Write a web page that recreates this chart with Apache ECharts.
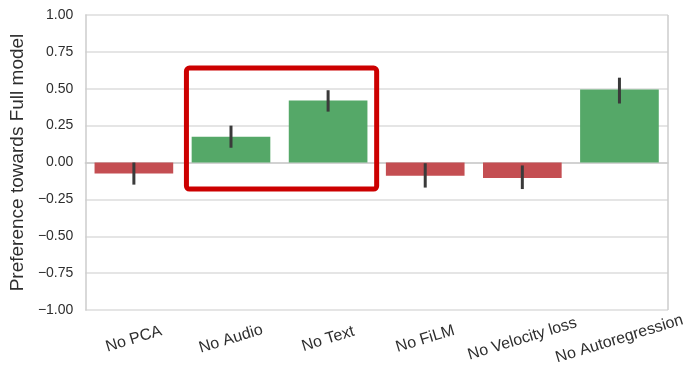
<!DOCTYPE html>
<html>
<head>
<meta charset="utf-8">
<script src="https://cdn.jsdelivr.net/npm/echarts@6/dist/echarts.min.js"></script>
<style>
  html, body { margin: 0; padding: 0; background: #ffffff; }
  #chart { width: 691px; height: 384px; }
</style>
</head>
<body>
<div id="chart"></div>
<script>
// Ablation variants and mean preference towards the full model
const categories = ['No PCA', 'No Audio', 'No Text', 'No FiLM', 'No Velocity loss', 'No Autoregression'];
const preference = [-0.075, 0.175, 0.42, -0.09, -0.105, 0.495];
// Confidence interval bounds for each variant
const ciLow  = [-0.15, 0.10, 0.345, -0.17, -0.18, 0.40];
const ciHigh = [ 0.00, 0.25, 0.49, -0.005, -0.02, 0.575];
// Y-axis ticks
const yTicks = [-1.00, -0.75, -0.50, -0.25, 0.00, 0.25, 0.50, 0.75, 1.00];
// Highlighted variants and the value range the highlight box spans
const highlighted = ['No Audio', 'No Text'];
const highlightRange = [-0.18, 0.64];

const GREEN = '#55a868';
const RED = '#c44e52';
const FONT = 'Liberation Sans, Arial, sans-serif';

const chart = echarts.init(document.getElementById('chart'), null, { renderer: 'canvas' });

const fmt = v => (v < 0 ? '\u2212' + Math.abs(v).toFixed(2) : v.toFixed(2));

chart.setOption({
  backgroundColor: '#ffffff',
  animation: false,
  grid: { left: 84, right: 23, top: 15, bottom: 74 },
  xAxis: {
    type: 'category',
    data: categories,
    axisLine: { show: true, lineStyle: { color: '#cccccc', width: 1.5 } },
    axisTick: { show: false },
    splitLine: { show: false },
    axisLabel: {
      rotate: 17,
      align: 'center',
      verticalAlign: 'middle',
      margin: 29,
      fontFamily: FONT,
      fontSize: 16,
      color: '#2e2e2e',
      interval: 0
    }
  },
  yAxis: {
    type: 'value',
    min: yTicks[0],
    max: yTicks[yTicks.length - 1],
    interval: 0.25,
    name: 'Preference towards Full model',
    nameLocation: 'middle',
    nameGap: 54,
    nameRotate: 90,
    nameTextStyle: { fontFamily: FONT, fontSize: 19, color: '#2e2e2e' },
    axisLine: { show: true, lineStyle: { color: '#cccccc', width: 1.5 } },
    axisTick: { show: false },
    splitLine: { show: true, lineStyle: { color: '#dcdcdc', width: 1.5 } },
    axisLabel: {
      formatter: v => fmt(v),
      fontFamily: FONT,
      fontSize: 14,
      color: '#2e2e2e',
      margin: 12
    }
  },
  series: [
    {
      type: 'bar',
      data: preference.map(v => ({ value: v, itemStyle: { color: v >= 0 ? GREEN : RED } })),
      barWidth: '81%',
      z: 2
    },
    {
      type: 'custom',
      z: 5,
      data: categories.map((c, i) => [i, ciLow[i], ciHigh[i]]),
      renderItem: (params, api) => {
        const lo = api.coord([api.value(0), api.value(1)]);
        const hi = api.coord([api.value(0), api.value(2)]);
        return {
          type: 'line',
          shape: { x1: lo[0], y1: lo[1], x2: hi[0], y2: hi[1] },
          style: { stroke: '#3a3a3a', lineWidth: 3 }
        };
      }
    }
  ]
});

// Frame spine on the right side and the highlight box around selected variants
function drawOverlay() {
  const gridModel = chart.getModel().getComponent('grid', 0);
  const rect = gridModel.coordinateSystem.getRect();
  const c0 = chart.convertToPixel({ xAxisIndex: 0 }, highlighted[0]);
  const c1 = chart.convertToPixel({ xAxisIndex: 0 }, highlighted[highlighted.length - 1]);
  const band = rect.width / categories.length;
  const yTop = chart.convertToPixel({ yAxisIndex: 0 }, highlightRange[1]);
  const yBot = chart.convertToPixel({ yAxisIndex: 0 }, highlightRange[0]);
  const x0 = c0 - band / 2 + 4;
  const x1 = c1 + band / 2;
  chart.setOption({
    graphic: [
      {
        type: 'line',
        shape: { x1: rect.x + rect.width, y1: rect.y, x2: rect.x + rect.width, y2: rect.y + rect.height },
        style: { stroke: '#cccccc', lineWidth: 1.5 },
        z: 1
      },
      {
        type: 'rect',
        shape: { x: x0, y: yTop, width: x1 - x0, height: yBot - yTop, r: 3 },
        style: { fill: 'none', stroke: '#cc0000', lineWidth: 5 },
        z: 10
      }
    ]
  });
}
drawOverlay();
</script>
</body>
</html>
